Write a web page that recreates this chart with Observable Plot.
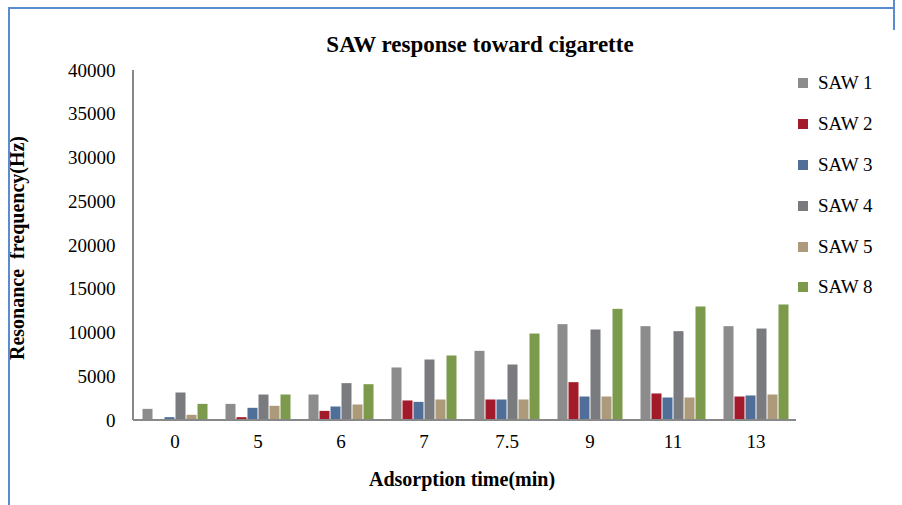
<!DOCTYPE html>
<html><head><meta charset="utf-8">
<script src="https://cdn.jsdelivr.net/npm/d3@7"></script>
<script src="https://cdn.jsdelivr.net/npm/@observablehq/plot@0.6"></script>
<style>
body{margin:0;background:#fff;font-family:"Liberation Serif",serif;}
#wrap{position:relative;width:902px;height:505px;overflow:hidden}
.ln{position:absolute;background:#5b8bd0}
#legend{position:absolute;left:798px;top:63px;font-size:19px;color:#000}
#legend div{height:40.8px;display:flex;align-items:center}
#legend span.sw{display:inline-block;width:10px;height:10px;margin-right:10px}
</style></head><body>
<div id="wrap">
<div id="chart"></div>
<div class="ln" style="left:8px;top:7px;width:887px;height:2px"></div>
<div class="ln" style="left:8px;top:7px;width:2px;height:498px"></div>
<div class="ln" style="left:893px;top:0px;width:2px;height:30px"></div>
<div id="legend"></div>
</div>
<script>
const times = ["0","5","6","7","7.5","9","11","13"];
const series = ["SAW 1","SAW 2","SAW 3","SAW 4","SAW 5","SAW 8"];
const colors = ["#8c8c8c","#a31a2a","#4f6f99","#7a7b7f","#ad9a7b","#7c9a4b"];
const saw1 = [1330,1900,2970,6060,7960,11010,10780,10780];
const saw2 = [100,380,1100,2290,2400,4380,3090,2740];
const saw3 = [380,1450,1600,2130,2400,2740,2630,2860];
const saw4 = [3200,2970,4270,6970,6400,10400,10210,10510];
const saw5 = [650,1680,1830,2400,2400,2740,2630,2970];
const saw8 = [1900,2970,4150,7430,9940,12760,13030,13260];
const vals = [saw1,saw2,saw3,saw4,saw5,saw8];
const data = [];
times.forEach((t,i)=>series.forEach((s,j)=>data.push({t,s,v:vals[j][i]})));
const chart = Plot.plot({
  width:902,height:505,marginLeft:141,marginRight:112,marginTop:70,marginBottom:85,
  style:{fontFamily:"Liberation Serif, serif",fontSize:"19px",color:"#000"},
  fx:{domain:times,padding:0.19,label:null,tickSize:0},
  x:{domain:series,axis:null,padding:0},
  y:{domain:[0,40000],ticks:d3.range(0,40001,5000),tickFormat:d=>String(d),tickSize:0,tickPadding:26,label:null},
  color:{domain:series,range:colors},
  marks:[
    Plot.barY(data,{fx:"t",x:"s",y:"v",fill:"s",inset:0.5}),
    Plot.axisFx({anchor:"bottom",tickSize:0,tickPadding:14,label:null,fontSize:19})
  ]
});
const svg = d3.select(chart);
const y0 = chart.scale("y").apply(0), yTop = chart.scale("y").apply(40000);
svg.append("line").attr("x1",133).attr("x2",133).attr("y1",yTop).attr("y2",y0).attr("stroke","#888").attr("stroke-width",2);
svg.append("line").attr("x1",133).attr("x2",796).attr("y1",y0).attr("y2",y0).attr("stroke","#888").attr("stroke-width",2);
svg.append("text").attr("x",480).attr("y",52).attr("text-anchor","middle").attr("font-weight","bold").attr("font-size",23).text("SAW response toward cigarette");
svg.append("text").attr("x",462).attr("y",486).attr("text-anchor","middle").attr("font-weight","bold").attr("font-size",20).text("Adsorption time(min)");
svg.append("text").attr("transform","translate(24,248) rotate(-90)").attr("text-anchor","middle").attr("font-weight","bold").attr("font-size",20).text("Resonance  frequency(Hz)");
document.getElementById("chart").appendChild(chart);
const lg = document.getElementById("legend");
series.forEach((s,i)=>{const d=document.createElement("div");d.innerHTML=`<span class="sw" style="background:${colors[i]}"></span>${s}`;lg.appendChild(d);});
</script>
</body></html>
